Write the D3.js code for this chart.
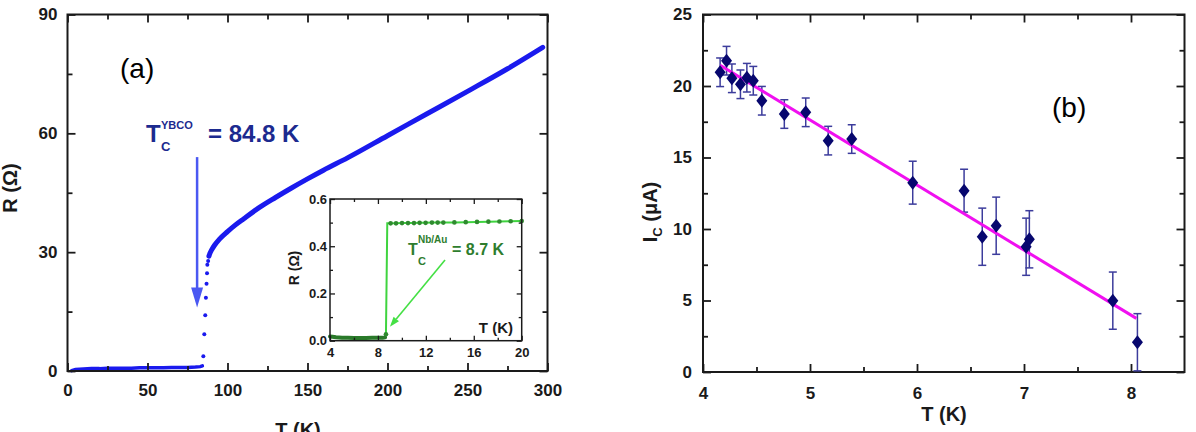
<!DOCTYPE html>
<html>
<head>
<meta charset="utf-8">
<script src="https://cdn.jsdelivr.net/npm/d3@7"></script>
<style>
  body { margin: 0; background: #fff; }
  text { font-family: Arial, "Liberation Sans", sans-serif; }
</style>
</head>
<body>
<div id="chart"></div>
<script>
// ---- panel (a) : R(T) of the YBCO film ----
const ybcoLowT   = [2.6, 5, 10, 15, 20, 25, 30, 35, 40, 45, 50, 55, 60, 65, 70, 75, 80, 83, 84.3];
const ybcoLowR   = [0.1, 0.4, 0.5, 0.6, 0.6, 0.7, 0.7, 0.7, 0.7, 0.8, 0.8, 0.8, 0.8, 0.9, 0.9, 0.9, 1.0, 1.1, 1.3];
const ybcoTransT = [84.9, 85.5, 86.1, 86.5, 86.9, 87.2, 87.4, 87.9];
const ybcoTransR = [3.7, 9.3, 14.1, 18.5, 22.0, 24.7, 26.8, 27.8];
const ybcoT = [88.4, 89, 90, 92, 95, 100, 105, 110, 120, 130, 140, 150, 160, 175, 200, 225, 250, 275, 297];
const ybcoR = [29.0, 29.7, 30.5, 31.8, 33.3, 35.2, 36.9, 38.4, 41.3, 43.8, 46.2, 48.5, 50.7, 53.8, 59.4, 65.0, 70.6, 76.3, 81.7];
const ybcoArrowT = 81, ybcoArrowR = [54, 16];

// ---- inset : R(T) of the Nb/Au bilayer ----
const nbLowT  = [4.0, 4.2, 4.5, 5.0, 5.5, 6.0, 6.5, 7.0, 7.5, 8.0, 8.4, 8.6];
const nbLowR  = [0.018, 0.017, 0.015, 0.013, 0.012, 0.011, 0.011, 0.011, 0.012, 0.012, 0.012, 0.014];
const nbStepT = [8.67, 8.78];
const nbStepR = [0.027, 0.497];
const nbHighT = [9.06, 9.51, 10.01, 10.51, 11.01, 11.48, 11.98, 12.51, 12.99, 13.46, 14.38, 15.33, 16.27, 17.22, 18.14, 19.08, 20.0];
const nbHighR = [0.497, 0.497, 0.498, 0.498, 0.498, 0.499, 0.499, 0.5, 0.5, 0.5, 0.501, 0.502, 0.503, 0.504, 0.505, 0.506, 0.507];
const nbArrowFrom = [13.6, 0.342], nbArrowTo = [9.0, 0.059];

// ---- panel (b) : critical current vs T ----
const icT   = [4.16, 4.22, 4.27, 4.35, 4.41, 4.47, 4.55, 4.76, 4.96, 5.17, 5.39, 5.96, 6.44, 6.61, 6.74, 7.02, 7.05, 7.83, 8.06];
const icI   = [20.96, 21.77, 20.54, 20.12, 20.58, 20.37, 18.97, 18.04, 18.16, 16.18, 16.29, 13.24, 12.68, 9.46, 10.23, 8.76, 9.28, 4.99, 2.08];
const icErr = [1, 1, 1, 1, 1, 1, 1, 1, 1, 1, 1, 1.5, 1.5, 2, 2, 2, 2, 2, 2];
const fitT  = [4.16, 8.05];
const fitI  = [21.45, 3.75];

// tick labels
const aTicksX = [0, 50, 100, 150, 200, 250, 300], aTicksY = [0, 30, 60, 90];
const inTicksX = [4, 8, 12, 16, 20], inTicksY = [0, 0.2, 0.4, 0.6];
const bTicksX = [4, 5, 6, 7, 8], bTicksY = [0, 5, 10, 15, 20, 25];

const svg = d3.select("#chart").append("svg")
  .attr("width", 1196).attr("height", 432)
  .style("background", "#fff");

const zip = (a, b) => a.map((v, i) => [v, b[i]]);

//-------------------------------------------------------------------
// box with inward ticks on all four sides, labels on bottom / left
function drawFrame(g, x, y, o) {
  const [x0, x1] = x.range(), [y0, y1] = y.range();
  const sides = [
    [d3.axisBottom, x, `translate(0,${y0})`, o.xMajor, o.xMinor, o.xFmt, o.xPad],
    [d3.axisTop,    x, `translate(0,${y1})`, o.xMajor, o.xMinor, null, 0],
    [d3.axisLeft,   y, `translate(${x0},0)`, o.yMajor, o.yMinor, o.yFmt, o.yPad],
    [d3.axisRight,  y, `translate(${x1},0)`, o.yMajor, o.yMinor, null, 0]
  ];
  sides.forEach(([ax, sc, tr, major, minor, fmt, pad]) => {
    g.append("g").attr("transform", tr)
      .call(ax(sc).tickValues(minor).tickSize(-o.minor).tickFormat(""));
    const a = g.append("g").attr("transform", tr)
      .call(ax(sc).tickValues(major).tickSize(-o.major).tickPadding(pad)
        .tickFormat(fmt ? fmt : ""));
    a.selectAll("text")
      .attr("fill", "#1a1a1a")
      .style("font-size", o.font + "px")
      .style("font-weight", "bold");
  });
  g.selectAll(".domain").remove();
  g.selectAll(".tick line").attr("stroke", "#1a1a1a").attr("stroke-width", o.tickW);
  g.append("rect")
    .attr("x", x0).attr("y", y1)
    .attr("width", x1 - x0).attr("height", y0 - y1)
    .attr("fill", "none").attr("stroke", "#1a1a1a").attr("stroke-width", o.frameW);
}

//-------------------------------------------------------------------
// panel (a)
const xa = d3.scaleLinear().domain([0, 300]).range([67.5, 547.5]);
const ya = d3.scaleLinear().domain([0, 90]).range([371, 14.5]);
const ga = svg.append("g");

const lineA = d3.line().x(d => xa(d[0])).y(d => ya(d[1]));
ga.append("path").datum(zip(ybcoLowT, ybcoLowR))
  .attr("d", lineA).attr("fill", "none")
  .attr("stroke", "#1a1aee").attr("stroke-width", 3.5).attr("stroke-linecap", "round");
ga.append("path").datum(zip(ybcoT, ybcoR))
  .attr("d", lineA.curve(d3.curveMonotoneX)).attr("fill", "none")
  .attr("stroke", "#1a1aee").attr("stroke-width", 5).attr("stroke-linecap", "round");
ga.selectAll("circle.tr").data(zip(ybcoTransT, ybcoTransR)).enter()
  .append("circle").attr("class", "tr")
  .attr("cx", d => xa(d[0])).attr("cy", d => ya(d[1])).attr("r", 2)
  .attr("fill", "#1a1aee");

// Tc arrow
const axp = xa(ybcoArrowT), ay0 = ya(ybcoArrowR[0]), ay1 = ya(ybcoArrowR[1]);
ga.append("line").attr("x1", axp).attr("x2", axp).attr("y1", ay0).attr("y2", ay1 - 16)
  .attr("stroke", "#4a58f2").attr("stroke-width", 2.5);
ga.append("path")
  .attr("d", `M${axp - 6},${ay1 - 20} L${axp + 6},${ay1 - 20} L${axp},${ay1} Z`)
  .attr("fill", "#4a58f2");

drawFrame(ga, xa, ya, {
  xMajor: aTicksX, xMinor: d3.range(25, 300, 50), xFmt: d3.format("d"), xPad: 13,
  yMajor: aTicksY, yMinor: [15, 45, 75], yFmt: d3.format("d"), yPad: 10,
  major: 8, minor: 5, font: 17, tickW: 1.8, frameW: 2
});

const navy = "#1c2a8f";
ga.append("text").attr("x", 120).attr("y", 78).attr("font-size", 28).text("(a)");
ga.append("text").attr("x", 146).attr("y", 142).attr("font-size", 24).attr("font-weight", "bold")
  .attr("fill", navy).text("T");
ga.append("text").attr("x", 161).attr("y", 151).attr("font-size", 13).attr("font-weight", "bold")
  .attr("fill", navy).text("C");
ga.append("text").attr("x", 161).attr("y", 129).attr("font-size", 11).attr("font-weight", "bold")
  .attr("fill", navy).text("YBCO");
ga.append("text").attr("x", 208).attr("y", 142).attr("font-size", 24).attr("font-weight", "bold")
  .attr("fill", navy).text("= 84.8 K");

ga.append("text").attr("transform", "translate(17,188) rotate(-90)")
  .attr("text-anchor", "middle").attr("font-size", 20).attr("font-weight", "bold")
  .attr("fill", "#1a1a1a").text("R (Ω)");
ga.append("text").attr("x", 298).attr("y", 437)
  .attr("text-anchor", "middle").attr("font-size", 20).attr("font-weight", "bold")
  .attr("fill", "#1a1a1a").text("T (K)");

//-------------------------------------------------------------------
// inset
const xi = d3.scaleLinear().domain([4, 20]).range([330, 521.7]);
const yi = d3.scaleLinear().domain([0, 0.6]).range([340.7, 199]);
const gi = svg.append("g");
gi.append("rect").attr("x", 330).attr("y", 199).attr("width", 191.7).attr("height", 141.7).attr("fill", "#fff");

const lineI = d3.line().x(d => xi(d[0])).y(d => yi(d[1]));
const stepPts = zip(nbStepT, nbStepR).concat(zip(nbHighT, nbHighR));
gi.append("path").datum(stepPts).attr("d", lineI).attr("fill", "none")
  .attr("stroke", "#3fd43f").attr("stroke-width", 2);
gi.append("path").datum(zip(nbLowT, nbLowR)).attr("d", lineI).attr("fill", "none")
  .attr("stroke", "#2a7a2a").attr("stroke-width", 4).attr("stroke-linecap", "round");
gi.selectAll("circle.nb").data(zip(nbHighT, nbHighR).concat([[nbStepT[0], nbStepR[0]]])).enter()
  .append("circle").attr("class", "nb")
  .attr("cx", d => xi(d[0])).attr("cy", d => yi(d[1])).attr("r", 2.3)
  .attr("fill", "#2f8a2f");

drawFrame(gi, xi, yi, {
  xMajor: inTicksX, xMinor: [6, 10, 14, 18], xFmt: d3.format("d"), xPad: 7,
  yMajor: inTicksY, yMinor: [0.1, 0.3, 0.5], yFmt: d3.format(".1f"), yPad: 3,
  major: 5, minor: 3, font: 13, tickW: 1.3, frameW: 1.5
});

// Nb/Au arrow
const ia0 = [xi(nbArrowFrom[0]), yi(nbArrowFrom[1])], ia1 = [xi(nbArrowTo[0]), yi(nbArrowTo[1])];
const ang = Math.atan2(ia1[1] - ia0[1], ia1[0] - ia0[0]);
const hb = [ia1[0] - 10 * Math.cos(ang), ia1[1] - 10 * Math.sin(ang)];
gi.append("line").attr("x1", ia0[0]).attr("y1", ia0[1]).attr("x2", hb[0]).attr("y2", hb[1])
  .attr("stroke", "#44e044").attr("stroke-width", 1.6);
gi.append("path")
  .attr("d", `M${ia1[0]},${ia1[1]} L${hb[0] + 3.5 * Math.sin(ang)},${hb[1] - 3.5 * Math.cos(ang)} L${hb[0] - 3.5 * Math.sin(ang)},${hb[1] + 3.5 * Math.cos(ang)} Z`)
  .attr("fill", "#44e044");

const dg = "#2e7d2e";
gi.append("text").attr("x", 408).attr("y", 255).attr("font-size", 16).attr("font-weight", "bold").attr("fill", dg).text("T");
gi.append("text").attr("x", 418).attr("y", 265).attr("font-size", 11).attr("font-weight", "bold").attr("fill", dg).text("C");
gi.append("text").attr("x", 418).attr("y", 243).attr("font-size", 10).attr("font-weight", "bold").attr("fill", dg).text("Nb/Au");
gi.append("text").attr("x", 452).attr("y", 255).attr("font-size", 16).attr("font-weight", "bold").attr("fill", dg).text("= 8.7 K");
gi.append("text").attr("x", 513).attr("y", 333).attr("text-anchor", "end")
  .attr("font-size", 15).attr("font-weight", "bold").attr("fill", "#1a1a1a").text("T (K)");
gi.append("text").attr("transform", "translate(299,268) rotate(-90)")
  .attr("text-anchor", "middle").attr("font-size", 14).attr("font-weight", "bold")
  .attr("fill", "#1a1a1a").text("R (Ω)");

//-------------------------------------------------------------------
// panel (b)
const xb = d3.scaleLinear().domain([4, 8.5]).range([703, 1184.5]);
const yb = d3.scaleLinear().domain([0, 25]).range([372, 14.5]);
const gb = svg.append("g");

drawFrame(gb, xb, yb, {
  xMajor: bTicksX, xMinor: [4.5, 5.5, 6.5, 7.5], xFmt: d3.format("d"), xPad: 15,
  yMajor: bTicksY, yMinor: [2.5, 7.5, 12.5, 17.5, 22.5], yFmt: d3.format("d"), yPad: 11,
  major: 8, minor: 5, font: 17, tickW: 1.8, frameW: 2
});

const pts = icT.map((t, i) => ({ t, i: icI[i], e: icErr[i] }));
const eb = gb.append("g").attr("stroke", "#3c3c9c").attr("stroke-width", 1.5);
pts.forEach(p => {
  const cx = xb(p.t), top = yb(p.i + p.e), bot = yb(Math.max(0, p.i - p.e));
  eb.append("line").attr("x1", cx).attr("x2", cx).attr("y1", top).attr("y2", bot);
  eb.append("line").attr("x1", cx - 4).attr("x2", cx + 4).attr("y1", top).attr("y2", top);
  eb.append("line").attr("x1", cx - 4).attr("x2", cx + 4).attr("y1", bot).attr("y2", bot);
});

gb.append("path").datum(zip(fitT, fitI))
  .attr("d", d3.line().x(d => xb(d[0])).y(d => yb(d[1])))
  .attr("stroke", "#f010f0").attr("stroke-width", 3).attr("fill", "none");

gb.selectAll("path.dia").data(pts).enter()
  .append("path").attr("class", "dia")
  .attr("transform", d => `translate(${xb(d.t)},${yb(d.i)})`)
  .attr("d", "M0,-7 L5.5,0 L0,7 L-5.5,0 Z")
  .attr("fill", "#07076e");

gb.append("text").attr("x", 1052).attr("y", 117).attr("font-size", 28).text("(b)");
gb.append("text").attr("x", 944).attr("y", 421)
  .attr("text-anchor", "middle").attr("font-size", 20).attr("font-weight", "bold")
  .attr("fill", "#1a1a1a").text("T (K)");
const yl = gb.append("text").attr("transform", "translate(657,212) rotate(-90)")
  .attr("text-anchor", "middle").attr("font-size", 20).attr("font-weight", "bold")
  .attr("fill", "#1a1a1a");
yl.append("tspan").text("I");
yl.append("tspan").attr("font-size", 13).attr("dy", 5).text("C");
yl.append("tspan").attr("dy", -5).text(" (μA)");
</script>
</body>
</html>
